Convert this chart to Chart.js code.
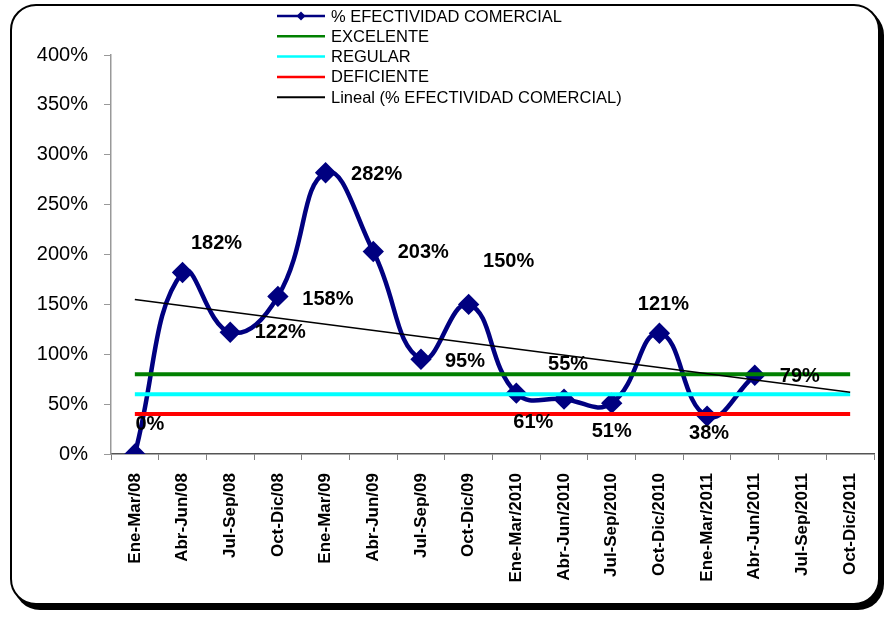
<!DOCTYPE html>
<html>
<head>
<meta charset="utf-8">
<title>% Efectividad Comercial</title>
<script src="https://cdn.jsdelivr.net/npm/chart.js@4.4.1/dist/chart.umd.min.js"></script>
<style>
    html, body { margin: 0; padding: 0; background: #fff; }
    #wrap { position: relative; width: 886px; height: 618px; }
    #frame {
        position: absolute; left: 10px; top: 4px; width: 870px; height: 601px;
        box-sizing: border-box; border: 2px solid #000; border-radius: 26px;
        box-shadow: 4px 5px 0 #000; background: #fff;
    }
    #chart { position: absolute; left: 0; top: 0; }
</style>
</head>
<body>
<div id="wrap">
    <div id="frame"></div>
    <canvas id="chart" width="886" height="618"></canvas>
</div>
<script>
const periods = ['Ene-Mar/08', 'Abr-Jun/08', 'Jul-Sep/08', 'Oct-Dic/08', 'Ene-Mar/09', 'Abr-Jun/09',
    'Jul-Sep/09', 'Oct-Dic/09', 'Ene-Mar/2010', 'Abr-Jun/2010', 'Jul-Sep/2010', 'Oct-Dic/2010',
    'Ene-Mar/2011', 'Abr-Jun/2011', 'Jul-Sep/2011', 'Oct-Dic/2011'];

const efectividad = [0, 182, 122, 158, 282, 203, 95, 150, 61, 55, 51, 121, 38, 79, null, null];
const excelente  = [80, 80, 80, 80, 80, 80, 80, 80, 80, 80, 80, 80, 80, 80, 80, 80];
const regular    = [60, 60, 60, 60, 60, 60, 60, 60, 60, 60, 60, 60, 60, 60, 60, 60];
const deficiente = [40, 40, 40, 40, 40, 40, 40, 40, 40, 40, 40, 40, 40, 40, 40, 40];
// linear trend of the series, start and end values
const lineal = [155, null, null, null, null, null, null, null, null, null, null, null, null, null, null, 62];

const yTicks = [0, 50, 100, 150, 200, 250, 300, 350, 400];

// where each value label sits relative to its point
const labelOffsets = [[15, -30], [34, -29], [50, 0], [50, 3], [51, 2], [50, 1], [44, 2],
    [40, -43], [17, 29], [4, -35], [0, 28], [4, -29], [2, 17], [45, 1]];

const FONT = "'Liberation Sans', Arial, sans-serif";

const valueLabels = {
    id: 'valueLabels',
    afterDatasetsDraw(chart) {
        const ctx = chart.ctx;
        const meta = chart.getDatasetMeta(0);
        ctx.save();
        ctx.font = 'bold 20px ' + FONT;
        ctx.fillStyle = '#000';
        ctx.textAlign = 'center';
        ctx.textBaseline = 'middle';
        meta.data.forEach((pt, i) => {
            const v = efectividad[i];
            if (v === null || !labelOffsets[i]) return;
            ctx.fillText(v + '%', pt.x + labelOffsets[i][0], pt.y + labelOffsets[i][1]);
        });
        ctx.restore();
    }
};

// stacked legend at the top, built from the datasets
const stackedLegend = {
    id: 'stackedLegend',
    afterDraw(chart) {
        const ctx = chart.ctx;
        const x0 = 277, x1 = 325, tx = 331;
        ctx.save();
        ctx.font = '16.5px ' + FONT;
        ctx.textBaseline = 'middle';
        ctx.fillStyle = '#000';
        chart.data.datasets.forEach((ds, i) => {
            const y = 16 + i * 20.3;
            ctx.strokeStyle = ds.borderColor;
            ctx.lineWidth = ds.legendWidth;
            ctx.beginPath();
            ctx.moveTo(x0, y);
            ctx.lineTo(x1, y);
            ctx.stroke();
            if (ds.pointRadius > 0) {
                const m = (x0 + x1) / 2, r = 4.5;
                ctx.fillStyle = ds.borderColor;
                ctx.beginPath();
                ctx.moveTo(m, y - r); ctx.lineTo(m + r, y); ctx.lineTo(m, y + r); ctx.lineTo(m - r, y);
                ctx.closePath();
                ctx.fill();
                ctx.fillStyle = '#000';
            }
            ctx.fillText(ds.label, tx, y + 1);
        });
        ctx.restore();
    }
};

const flatLine = (label, data, color, width) => ({
    label, data,
    borderColor: color, backgroundColor: color,
    borderWidth: width, legendWidth: 2.5,
    pointRadius: 0, tension: 0, order: 1, spanGaps: true
});

new Chart(document.getElementById('chart'), {
    type: 'line',
    data: {
        labels: periods,
        datasets: [
            {
                label: '% EFECTIVIDAD COMERCIAL',
                data: efectividad,
                borderColor: '#000080', backgroundColor: '#000080',
                borderWidth: 4.5, legendWidth: 2.5,
                pointStyle: 'rectRot', pointRadius: 7.5,
                tension: 0.45, order: 2
            },
            flatLine('EXCELENTE', excelente, '#008000', 4),
            flatLine('REGULAR', regular, '#00FFFF', 4),
            flatLine('DEFICIENTE', deficiente, '#FF0000', 4),
            Object.assign(flatLine('Lineal (% EFECTIVIDAD COMERCIAL)', lineal, '#000000', 1.5), { order: 0, legendWidth: 2 })
        ]
    },
    options: {
        responsive: false,
        animation: false,
        layout: { autoPadding: false, padding: { top: 55, left: 10, right: 12, bottom: 10 } },
        plugins: { legend: { display: false }, tooltip: { enabled: false } },
        scales: {
            x: {
                type: 'category',
                offset: true,
                grid: { offset: true, drawOnChartArea: false, tickLength: 6, color: '#808080', lineWidth: 1 },
                border: { color: '#555', width: 1.5 },
                ticks: {
                    autoSkip: false, minRotation: 90, maxRotation: 90, padding: 13,
                    color: '#000', font: { family: FONT, size: 17, weight: 'bold' }
                },
                afterFit(scale) { scale.height = 154; }
            },
            y: {
                min: 0, max: 400,
                afterBuildTicks(scale) { scale.ticks = yTicks.map(v => ({ value: v })); },
                grid: { drawOnChartArea: false, tickLength: 7, color: '#999' },
                border: { color: '#999', width: 1.5 },
                ticks: {
                    padding: 16, color: '#000',
                    font: { family: FONT, size: 20 },
                    callback: v => v + '%'
                },
                afterFit(scale) { scale.width = 101; }
            }
        }
    },
    plugins: [valueLabels, stackedLegend]
});
</script>
</body>
</html>
